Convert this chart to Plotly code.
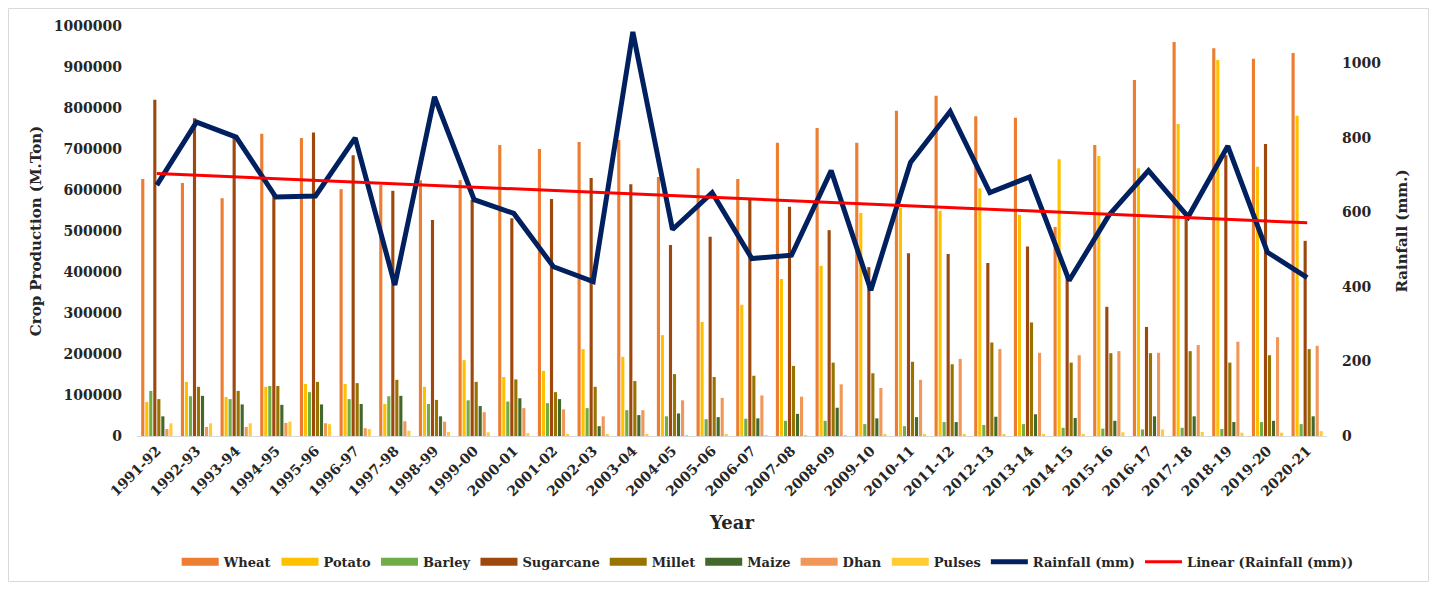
import plotly.graph_objects as go

years = ["1991-92", "1992-93", "1993-94", "1994-95", "1995-96", "1996-97", "1997-98",
         "1998-99", "1999-00", "2000-01", "2001-02", "2002-03", "2003-04", "2004-05",
         "2005-06", "2006-07", "2007-08", "2008-09", "2009-10", "2010-11", "2011-12",
         "2012-13", "2013-14", "2014-15", "2015-16", "2016-17", "2017-18", "2018-19",
         "2019-20", "2020-21"]

wheat = [627000, 617000, 580000, 737000, 727000, 602000, 612000, 624000, 624000, 710000,
         700000, 717000, 722000, 632000, 653000, 627000, 715000, 751000, 715000, 793000,
         830000, 780000, 776000, 510000, 710000, 868000, 961000, 946000, 920000, 934000]
potato = [83000, 132000, 95000, 120000, 127000, 127000, 78000, 120000, 185000, 144000,
          159000, 212000, 193000, 246000, 278000, 320000, 383000, 415000, 544000, 556000,
          549000, 604000, 539000, 675000, 683000, 653000, 761000, 917000, 657000, 781000]
barley = [110000, 97000, 90000, 122000, 107000, 90000, 97000, 78000, 87000, 84000,
          80000, 68000, 63000, 48000, 41000, 42000, 37000, 37000, 29000, 24000,
          34000, 27000, 29000, 20000, 18000, 16000, 20000, 17000, 34000, 29000]
sugarcane = [820000, 775000, 727000, 588000, 740000, 685000, 598000, 527000, 576000, 531000,
             578000, 629000, 614000, 466000, 486000, 576000, 559000, 502000, 412000, 446000,
             444000, 422000, 462000, 390000, 315000, 266000, 540000, 685000, 712000, 476000]
millet = [90000, 120000, 110000, 122000, 132000, 129000, 137000, 88000, 132000, 138000,
          107000, 120000, 134000, 151000, 144000, 147000, 171000, 179000, 153000, 181000,
          175000, 228000, 277000, 179000, 202000, 202000, 207000, 179000, 197000, 212000]
maize = [48000, 98000, 77000, 76000, 77000, 78000, 98000, 48000, 73000, 92000,
         90000, 24000, 51000, 55000, 46000, 43000, 54000, 69000, 43000, 46000,
         34000, 47000, 53000, 44000, 37000, 48000, 48000, 34000, 37000, 48000]
dhan = [17000, 22000, 22000, 32000, 31000, 19000, 36000, 35000, 58000, 68000,
        65000, 48000, 63000, 87000, 93000, 99000, 96000, 126000, 117000, 137000,
        188000, 212000, 203000, 197000, 207000, 203000, 222000, 230000, 241000, 220000]
pulses = [31000, 31000, 31000, 35000, 29000, 17000, 13000, 10000, 9000, 7000,
          5000, 3000, 3000, 2000, 4000, 2000, 1000, 2000, 3000, 5000,
          5000, 4000, 5000, 3000, 9000, 16000, 10000, 8000, 8000, 12000]
rainfall = [673, 842, 802, 641, 644, 800, 405, 910, 634, 597, 454, 414, 1084, 554, 653,
            476, 485, 712, 391, 734, 871, 653, 695, 417, 592, 712, 588, 778, 493, 425]
# linear trend of rainfall, read at the first and last year
trend_years = [years[0], years[-1]]
trend_values = [704, 572]

crop_series = [
    ("Wheat", wheat, "#ED7D31"),
    ("Potato", potato, "#FFC000"),
    ("Barley", barley, "#70AD47"),
    ("Sugarcane", sugarcane, "#9E480E"),
    ("Millet", millet, "#997300"),
    ("Maize", maize, "#43682B"),
    ("Dhan", dhan, "#F1975A"),
    ("Pulses", pulses, "#FFCD33"),
]

FONT = "DejaVu Serif"
TXT = "#262626"
fig = go.Figure()
for name, vals, color in crop_series:
    fig.add_trace(go.Bar(x=years, y=vals, name=name, legendgroup=name, showlegend=False,
                         marker=dict(color=color, line=dict(width=0)), yaxis="y"))
    # legend-only entry drawn as a wide swatch, like the original legend
    fig.add_trace(go.Scatter(x=[None], y=[None], name=name, legendgroup=name, mode="lines",
                             line=dict(color=color, width=8), yaxis="y"))

fig.add_trace(go.Scatter(x=years, y=rainfall, name="Rainfall (mm)", mode="lines",
                         line=dict(color="#002060", width=5), yaxis="y2"))
fig.add_trace(go.Scatter(x=trend_years, y=trend_values, name="Linear (Rainfall (mm))",
                         mode="lines", line=dict(color="#FF0000", width=3), yaxis="y2"))

W, H = 1422, 575
L, T, PW, PH = 129, 18, 1190, 410
fig.update_layout(
    width=W, height=H,
    margin=dict(l=L, r=W - L - PW, t=T, b=H - T - PH, autoexpand=False),
    paper_bgcolor="white", plot_bgcolor="white",
    barmode="group", bargap=0.19, bargroupgap=0.22,
    font=dict(family=FONT, size=14, color=TXT, weight="bold"),
    showlegend=True,
    legend=dict(orientation="h", x=0.53, xanchor="center", y=-0.307, yanchor="middle",
                bgcolor="rgba(0,0,0,0)",
                font=dict(family=FONT, size=13, color=TXT, weight="bold"),
                itemwidth=37, tracegroupgap=0),
    xaxis=dict(type="category", tickangle=-45, showgrid=False, zeroline=False,
               showline=True, linecolor="#D9D9D9", linewidth=1, ticks="",
               tickfont=dict(family=FONT, size=14, color=TXT, weight="bold"),
               title=dict(text="Year", standoff=18,
                          font=dict(family=FONT, size=18, color=TXT, weight="bold")),
               range=[-0.5, len(years) - 0.5]),
    yaxis=dict(range=[0, 1000000], dtick=100000, showgrid=False, zeroline=False,
               showline=False, ticks="", tickformat="d", ticklabelstandoff=14,
               tickfont=dict(family=FONT, size=14, color=TXT, weight="bold"),
               title=dict(text="Crop Production (M.Ton)", standoff=8,
                          font=dict(family=FONT, size=15, color=TXT, weight="bold"))),
    yaxis2=dict(range=[0, 1100], tickvals=[0, 200, 400, 600, 800, 1000], overlaying="y",
                side="right", showgrid=False, zeroline=False, showline=False, ticks="",
                ticklabelstandoff=14,
                tickfont=dict(family=FONT, size=14, color=TXT, weight="bold"),
                title=dict(text="Rainfall (mm.)", standoff=16,
                           font=dict(family=FONT, size=15, color=TXT, weight="bold"))),
)

# outer chart border
fig.add_shape(type="rect", xref="paper", yref="paper",
              x0=(0.5 - L) / PW, x1=(W - 1.5 - L) / PW,
              y0=(T + PH - (H - 1.5)) / PH, y1=(T + PH - 0.5) / PH,
              line=dict(color="#D9D9D9", width=1), fillcolor="rgba(0,0,0,0)", layer="below")

fig.write_html("out.html")
